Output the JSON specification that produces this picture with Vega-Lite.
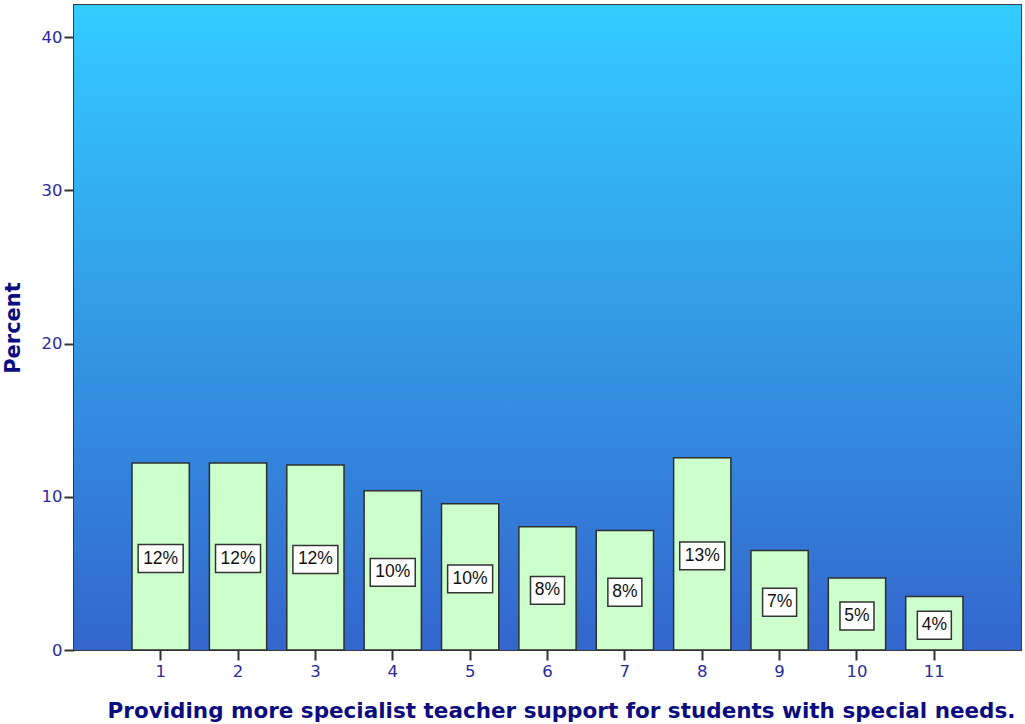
{
  "$schema": "https://vega.github.io/schema/vega-lite/v6.json",
  "width": 947,
  "height": 645,
  "autosize": {"type": "none"},
  "padding": {"left": 74, "top": 5, "right": 4, "bottom": 74},
  "background": "white",
  "config": {
    "view": {"stroke": "#3a3a3a", "strokeWidth": 2},
    "axis": {
      "grid": false,
      "domain": false,
      "tickColor": "#333333",
      "tickWidth": 2,
      "tickSize": 10,
      "labelColor": "#2b2b9a",
      "labelFont": "DejaVu Sans",
      "labelFontSize": 16.5,
      "titleColor": "#0c0c80",
      "titleFont": "DejaVu Sans",
      "titleFontWeight": "bold",
      "titleFontSize": 21
    }
  },
  "data": {
    "values": [
      {"category": 1, "percent": 12.2, "label": "12%"},
      {"category": 2, "percent": 12.2, "label": "12%"},
      {"category": 3, "percent": 12.08, "label": "12%"},
      {"category": 4, "percent": 10.4, "label": "10%"},
      {"category": 5, "percent": 9.55, "label": "10%"},
      {"category": 6, "percent": 8.05, "label": "8%"},
      {"category": 7, "percent": 7.8, "label": "8%"},
      {"category": 8, "percent": 12.55, "label": "13%"},
      {"category": 9, "percent": 6.5, "label": "7%"},
      {"category": 10, "percent": 4.7, "label": "5%"},
      {"category": 11, "percent": 3.5, "label": "4%"}
    ]
  },
  "layer": [
    {
      "data": {"values": [{}]},
      "mark": {
        "type": "rect",
        "fill": {
          "gradient": "linear",
          "x1": 0, "y1": 0, "x2": 0, "y2": 1,
          "stops": [
            {"offset": 0, "color": "#33CCFF"},
            {"offset": 1, "color": "#3366CC"}
          ]
        }
      },
      "encoding": {
        "x": {"value": 0},
        "x2": {"value": "width"},
        "y": {"value": 0},
        "y2": {"value": "height"}
      }
    },
    {
      "mark": {"type": "bar", "fill": "#CCFFCC", "stroke": "#2e2e2e", "strokeWidth": 1.5},
      "encoding": {
        "x": {
          "field": "category",
          "type": "ordinal",
          "scale": {"paddingInner": 0.26, "paddingOuter": 0.75},
          "axis": {
            "labelAngle": 0,
            "labelPadding": 3,
            "title": "Providing more specialist teacher support for students with special needs.",
            "titleX": 487,
            "titleY": 61,
            "titleAlign": "center",
            "titleBaseline": "middle",
            "titleFontSize": 21.5
          }
        },
        "y": {
          "field": "percent",
          "type": "quantitative",
          "scale": {"domain": [0, 42.1], "nice": false, "zero": true},
          "axis": {
            "values": [0, 10, 20, 30, 40],
            "labelPadding": 2,
            "title": "Percent",
            "titleX": -61,
            "titleBaseline": "middle"
          }
        }
      }
    },
    {
      "mark": {
        "type": "point",
        "filled": true,
        "fill": "white",
        "stroke": "#333333",
        "strokeWidth": 1.5,
        "opacity": 1,
        "yOffset": {"expr": "(scale('y', 0) - scale('y', datum.percent)) / 2 + 2"}
      },
      "encoding": {
        "x": {"field": "category", "type": "ordinal"},
        "y": {"field": "percent", "type": "quantitative"},
        "shape": {
          "condition": {"test": "datum.percent >= 9.5", "value": "M-1,-0.62H1V0.62H-1Z"},
          "value": "M-1,-0.82H1V0.82H-1Z"
        },
        "size": {
          "condition": {"test": "datum.percent >= 9.5", "value": 2025},
          "value": 1156
        }
      }
    },
    {
      "mark": {
        "type": "text",
        "font": "Liberation Sans",
        "fontSize": 17.5,
        "color": "#111111",
        "align": "center",
        "baseline": "middle",
        "yOffset": {"expr": "(scale('y', 0) - scale('y', datum.percent)) / 2 + 2"}
      },
      "encoding": {
        "x": {"field": "category", "type": "ordinal"},
        "y": {"field": "percent", "type": "quantitative"},
        "text": {"field": "label"}
      }
    }
  ]
}
